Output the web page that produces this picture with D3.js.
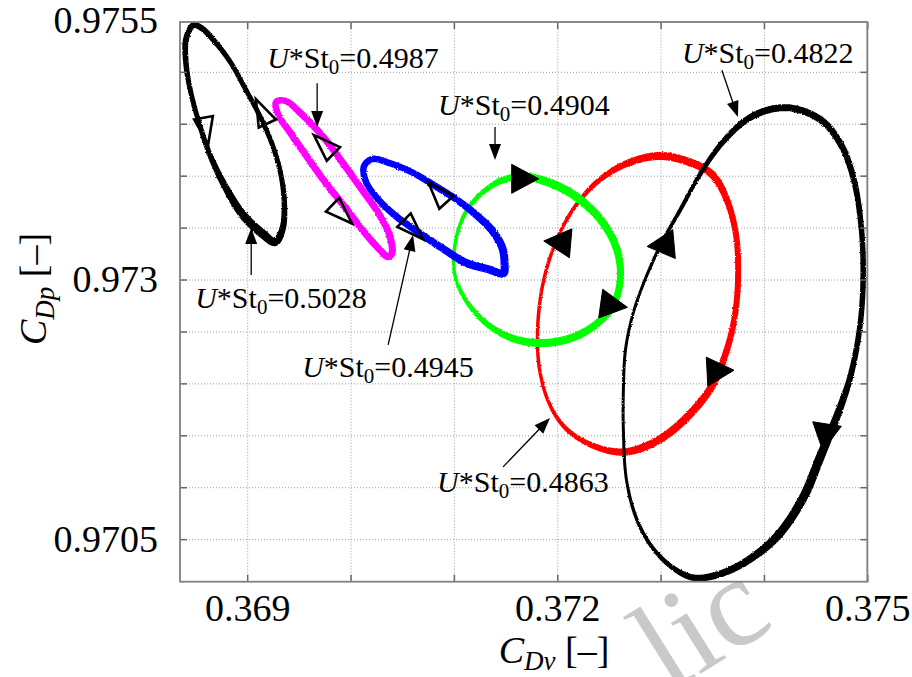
<!DOCTYPE html>
<html>
<head>
<meta charset="utf-8">
<script src="https://cdn.jsdelivr.net/npm/d3@7"></script>
<style>
  html, body { margin: 0; padding: 0; background: #fff; }
  svg { display: block; }
  text { font-family: "Liberation Serif", "Times New Roman", serif; }
</style>
</head>
<body>
<svg id="chart" width="912" height="677"></svg>
<script>
// ---------------------------------------------------------------
// Limit cycles of the viscous (C_Dv) vs. pressure (C_Dp) drag
// coefficients for six values of U*St0. Each cycle is one closed
// orbit, listed in its direction of travel.
// ---------------------------------------------------------------
const cycle4822 = [
  [0.37427,0.97465],[0.37456,0.97453],[0.37475,0.97429],[0.37487,0.97396],[0.37494,0.97352],
  [0.37496,0.97304],[0.37493,0.97256],[0.37484,0.97208],[0.37472,0.97172],[0.37454,0.97128],
  [0.37438,0.97090],[0.37413,0.97053],[0.37382,0.97028],[0.37353,0.97015],[0.37331,0.97013],
  [0.37311,0.97023],[0.37292,0.97042],[0.37277,0.97069],[0.37267,0.97107],[0.37264,0.97155],
  [0.37264,0.97194],[0.37266,0.97232],[0.37273,0.97266],[0.37285,0.97300],[0.37301,0.97335],
  [0.37319,0.97367],[0.37338,0.97401],[0.37359,0.97431],[0.37382,0.97453],[0.37403,0.97463]
];
const cycle4863 = [
  [0.37299,0.97419],[0.37328,0.97413],[0.37350,0.97401],[0.37364,0.97377],[0.37373,0.97343],
  [0.37375,0.97304],[0.37372,0.97266],[0.37364,0.97232],[0.37350,0.97198],[0.37328,0.97170],
  [0.37299,0.97146],[0.37266,0.97134],[0.37237,0.97139],[0.37210,0.97155],[0.37193,0.97179],
  [0.37183,0.97213],[0.37181,0.97251],[0.37185,0.97290],[0.37193,0.97321],[0.37205,0.97350],
  [0.37220,0.97374],[0.37241,0.97396],[0.37268,0.97412]
];
const cycle4904 = [
  [0.37169,0.97399],[0.37198,0.97391],[0.37222,0.97377],[0.37244,0.97355],[0.37258,0.97328],
  [0.37261,0.97300],[0.37254,0.97275],[0.37239,0.97258],[0.37217,0.97245],[0.37190,0.97239],
  [0.37161,0.97242],[0.37135,0.97255],[0.37113,0.97278],[0.37101,0.97304],[0.37101,0.97333],
  [0.37111,0.97364],[0.37128,0.97384],[0.37148,0.97396]
];
const cycle4945 = [
  [0.37149,0.97315],[0.37147,0.97330],[0.37138,0.97346],[0.37123,0.97361],[0.37104,0.97376],
  [0.37082,0.97390],[0.37060,0.97403],[0.37038,0.97412],[0.37021,0.97416],[0.37013,0.97409],
  [0.37015,0.97394],[0.37027,0.97377],[0.37044,0.97361],[0.37065,0.97346],[0.37089,0.97330],
  [0.37112,0.97316],[0.37133,0.97310],[0.37148,0.97306]
];
const cycle4987 = [
  [0.37040,0.97325],[0.37038,0.97342],[0.37027,0.97364],[0.37010,0.97388],[0.36992,0.97413],
  [0.36973,0.97438],[0.36953,0.97459],[0.36937,0.97472],[0.36928,0.97471],[0.36930,0.97459],
  [0.36942,0.97441],[0.36958,0.97418],[0.36976,0.97393],[0.36996,0.97368],[0.37013,0.97346],
  [0.37028,0.97329],[0.37036,0.97322]
];
const cycle5028 = [
  [0.36848,0.97545],[0.36841,0.97532],[0.36841,0.97506],[0.36846,0.97478],[0.36854,0.97449],
  [0.36864,0.97420],[0.36879,0.97389],[0.36896,0.97362],[0.36915,0.97344],[0.36927,0.97336],
  [0.36934,0.97348],[0.36936,0.97372],[0.36933,0.97399],[0.36925,0.97428],[0.36913,0.97456],
  [0.36898,0.97484],[0.36884,0.97509],[0.36868,0.97530],[0.36856,0.97542]
];

// Axis ticks and labels
const gridX  = [0.369, 0.370, 0.371, 0.372, 0.373, 0.374, 0.375];
const labelX = [0.369, 0.372, 0.375];
const gridY  = [0.9705, 0.971, 0.9715, 0.972, 0.9725, 0.973, 0.9735, 0.974, 0.9745, 0.975, 0.9755];
const labelY = [0.9705, 0.973, 0.9755];

// Direction markers on the cycles: position, heading (deg), filled or open
const markerPos = [
  [0.37169,0.97397],[0.37255,0.97275],[0.37200,0.97336],[0.37358,0.97212],[0.37300,0.97333],[0.37459,0.97148],
  [0.36860,0.97443],[0.36914,0.97462],[0.36974,0.97430],[0.36992,0.97363],[0.37084,0.97384],[0.37061,0.97348]
];
const markerHeading = [0, 8, 185, -3, 175, 99, 80, 245, 224, 44, 228, 45];
const markerFilled  = [true, true, true, true, true, true, false, false, false, false, false, false];

// Callouts naming each cycle
const calloutValue = ["0.5028", "0.4987", "0.4904", "0.4822", "0.4945", "0.4863"];
const calloutText  = [[0.368497,0.972726],[0.369193,0.975035],[0.370847,0.974583],
                      [0.373206,0.975083],[0.369532,0.972062],[0.370837,0.970955]];
const calloutFrom  = [[0.369039,0.973043],[0.369677,0.974891],[0.371398,0.974468],
                      [0.373593,0.975016],[0.370364,0.972370],[0.371476,0.971196]];
const calloutTo    = [[0.369039,0.973496],[0.369677,0.974468],[0.371398,0.974150],
                      [0.373748,0.974564],[0.370605,0.973428],[0.371930,0.971667]];

// ---------------------------------------------------------------
// Stroke look (band width in px at each listed vertex)
// ---------------------------------------------------------------
const width4822 = [7,7,6.5,6,5.5,5.5,5.5,6,7.5,9,9,8.5,7.5,7,6.5,5,4,3.5,3,3,3,3,3,3,3.5,4,4.5,5.5,6.5,7];
const width4863 = [8,8,7.5,6.5,6,6,6,6.5,7.5,8,8,7.5,6,4.5,3.5,3.5,3.5,3.5,3.5,3.5,4,5.5,7];
const width4904 = [8,8.5,8.5,8,7.5,7,7,7.5,8,8,7.5,6,4.5,3.5,3.5,4,5,6.5];
const width4945 = [8,8,8,7.5,7,7,6.5,6.5,6.5,6.5,6.5,6.5,7,7,7.5,8,8,8];
const width4987 = [7,7,7,7,7,7,7,6.5,6.5,6.5,7,7,7,7,7,7,7];
const width5028 = [6,6,5.5,5,5,5.5,7,8.5,9,8,6.5,5.5,5,5,5,5,5,5.5,6];

// drawing order: later entries sit on top
const series = [
  { pts: cycle4863, widths: width4863, color: "#ff0000" },
  { pts: cycle4822, widths: width4822, color: "#000000" },
  { pts: cycle4904, widths: width4904, color: "#00ff00" },
  { pts: cycle4945, widths: width4945, color: "#0000ff" },
  { pts: cycle4987, widths: width4987, color: "#ff00ff" },
  { pts: cycle5028, widths: width5028, color: "#000000" }
];

// ---------------------------------------------------------------
const svg = d3.select("#chart");
const xs = d3.scaleLinear().domain([0.36835, 0.375]).range([180, 867.3]);
const ys = d3.scaleLinear().domain([0.97009, 0.97548]).range([581.7, 22]);
const [plotLeft, plotRight] = xs.range();
const [plotBottom, plotTop] = ys.range();
const plotW = plotRight - plotLeft, plotH = plotBottom - plotTop;
const yMax = ys.domain()[1];

const defs = svg.append("defs");
defs.append("clipPath").attr("id", "plotClip")
  .append("rect").attr("x", plotLeft).attr("y", plotTop).attr("width", plotW).attr("height", plotH);
const rough = defs.append("filter").attr("id", "rough")
  .attr("x", "-10%").attr("y", "-10%").attr("width", "120%").attr("height", "120%");
rough.append("feTurbulence").attr("type", "fractalNoise").attr("baseFrequency", 0.8)
  .attr("numOctaves", 2).attr("seed", 7).attr("result", "noise");
rough.append("feDisplacementMap").attr("in", "SourceGraphic").attr("in2", "noise")
  .attr("scale", 2.4).attr("xChannelSelector", "R").attr("yChannelSelector", "G");

// faint watermark behind the page, hidden by the plot panel
svg.append("text")
  .attr("transform", "translate(668,694) rotate(-32)")
  .attr("font-size", 128).attr("fill", "#c9c9c9")
  .text("lic");

// opaque plot panel
svg.append("rect")
  .attr("x", plotLeft).attr("y", plotTop).attr("width", plotW).attr("height", plotH)
  .attr("fill", "#fff");

// dotted grid
const grid = svg.append("g").attr("class", "grid");
grid.append("g").attr("transform", `translate(0,${plotBottom})`)
  .call(d3.axisBottom(xs).tickValues(gridX).tickSize(-plotH).tickFormat(""))
  .call(g => g.select(".domain").remove());
grid.append("g").attr("transform", `translate(${plotLeft},0)`)
  .call(d3.axisLeft(ys).tickValues(gridY.filter(v => v < yMax)).tickSize(-plotW).tickFormat(""))
  .call(g => g.select(".domain").remove());
grid.selectAll("line").attr("stroke", "#9c9c9c").attr("stroke-width", 1).attr("stroke-dasharray", "1,2");

// variable-width band following a closed Catmull-Rom curve
const probe = svg.append("path").attr("fill", "none").attr("stroke", "none");
function bandPath(px, widths) {
  const d = d3.line().curve(d3.curveCatmullRomClosed.alpha(0.5))(px);
  probe.attr("d", d);
  const node = probe.node();
  const len = node.getTotalLength();
  const M = 900;
  const S = d3.range(M).map(k => { const p = node.getPointAtLength(len * k / M); return [p.x, p.y]; });
  const n = px.length;
  const at = px.map(p => d3.minIndex(S, s => (s[0] - p[0]) ** 2 + (s[1] - p[1]) ** 2));
  const Wd = new Array(M).fill(widths[0]);
  for (let i = 0; i < n; i++) {
    const a = at[i], b = at[(i + 1) % n];
    const span = ((b - a + M) % M) || M;
    const w0 = widths[i], w1 = widths[(i + 1) % n];
    for (let k = 0; k < span; k++) Wd[(a + k) % M] = w0 + (w1 - w0) * k / span;
  }
  const outer = [], inner = [];
  for (let j = 0; j < M; j++) {
    const p = S[(j + 2) % M], q = S[(j - 2 + M) % M];
    let tx = p[0] - q[0], ty = p[1] - q[1];
    const tl = Math.hypot(tx, ty) || 1; tx /= tl; ty /= tl;
    const nx = -ty, ny = tx, h = Wd[j] / 2;
    outer.push([S[j][0] + nx * h, S[j][1] + ny * h]);
    inner.push([S[j][0] - nx * h, S[j][1] - ny * h]);
  }
  inner.reverse();
  const ring = r => "M" + r.map(p => p[0].toFixed(2) + "," + p[1].toFixed(2)).join("L") + "Z";
  return ring(outer) + ring(inner);
}

const loops = svg.append("g").attr("clip-path", "url(#plotClip)")
  .append("g").attr("filter", "url(#rough)");
series.forEach(s => {
  const px = s.pts.map(([x, y]) => [xs(x), ys(y)]);
  loops.append("path")
    .attr("d", bandPath(px, s.widths))
    .attr("fill", s.color)
    .attr("fill-rule", "nonzero");
});
probe.remove();

// direction markers
function triangle(cx, cy, deg, L, Wb) {
  const a = deg * Math.PI / 180, ux = Math.cos(a), uy = Math.sin(a), nx = -uy, ny = ux;
  const tip = [cx + ux * L / 2, cy + uy * L / 2];
  const b1 = [cx - ux * L / 2 + nx * Wb / 2, cy - uy * L / 2 + ny * Wb / 2];
  const b2 = [cx - ux * L / 2 - nx * Wb / 2, cy - uy * L / 2 - ny * Wb / 2];
  return `M${tip}L${b1}L${b2}Z`;
}
const markers = svg.append("g");
markerPos.forEach(([x, y], i) => {
  const filled = markerFilled[i];
  markers.append("path")
    .attr("d", filled ? triangle(xs(x), ys(y), markerHeading[i], 27, 29)
                      : triangle(xs(x), ys(y), markerHeading[i], 27, 19))
    .attr("fill", filled ? "#000" : "none")
    .attr("stroke", "#000")
    .attr("stroke-width", filled ? 1 : 2.6)
    .attr("stroke-linejoin", "miter");
});

// callouts
const callouts = svg.append("g");
calloutValue.forEach((v, i) => {
  const [fx, fy] = calloutFrom[i], [tx, ty] = calloutTo[i];
  const x1 = xs(fx), y1 = ys(fy), x2 = xs(tx), y2 = ys(ty);
  const ang = Math.atan2(y2 - y1, x2 - x1) * 180 / Math.PI;
  const hl = 16, ux = Math.cos(ang * Math.PI / 180), uy = Math.sin(ang * Math.PI / 180);
  callouts.append("line")
    .attr("x1", x1).attr("y1", y1).attr("x2", x2 - ux * hl * 0.8).attr("y2", y2 - uy * hl * 0.8)
    .attr("stroke", "#000").attr("stroke-width", 1.3);
  callouts.append("path")
    .attr("d", triangle(x2 - ux * hl / 2, y2 - uy * hl / 2, ang, hl, 12))
    .attr("fill", "#000");
  const t = callouts.append("text")
    .attr("x", xs(calloutText[i][0])).attr("y", ys(calloutText[i][1]))
    .attr("font-size", 30).attr("fill", "#000");
  t.append("tspan").attr("font-style", "italic").text("U");
  t.append("tspan").text("*St");
  t.append("tspan").attr("font-size", "0.7em").attr("dy", 6).text("0");
  t.append("tspan").attr("dy", -6).text("=" + v);
});

// frame with inward ticks on all four sides
const axes = svg.append("g");
const tickColor = "#666";
const axB = axes.append("g").attr("transform", `translate(0,${plotBottom})`)
  .call(d3.axisBottom(xs).tickValues(gridX).tickSizeInner(-7).tickSizeOuter(0).tickPadding(12)
    .tickFormat(d => labelX.includes(d) ? String(d) : ""));
const axT = axes.append("g").attr("transform", `translate(0,${plotTop})`)
  .call(d3.axisTop(xs).tickValues(gridX).tickSizeInner(-7).tickSizeOuter(0).tickFormat(""));
const axL = axes.append("g").attr("transform", `translate(${plotLeft},0)`)
  .call(d3.axisLeft(ys).tickValues(gridY).tickSizeInner(-7).tickSizeOuter(0).tickPadding(22)
    .tickFormat(d => labelY.includes(d) ? String(d) : ""));
const axR = axes.append("g").attr("transform", `translate(${plotRight},0)`)
  .call(d3.axisRight(ys).tickValues(gridY).tickSizeInner(-7).tickSizeOuter(0).tickFormat(""));
[axL, axR].forEach(g => {
  g.selectAll(".tick").filter(d => d > yMax).select("line").remove();
});
[axB, axT, axL, axR].forEach(g => {
  g.select(".domain").remove();
  g.selectAll(".tick line").attr("stroke", tickColor).attr("stroke-width", 1.5);
  g.attr("font-family", null).attr("font-size", 38);
  g.selectAll("text").attr("fill", "#000");
});
axes.append("rect")
  .attr("x", plotLeft).attr("y", plotTop).attr("width", plotW).attr("height", plotH)
  .attr("fill", "none").attr("stroke", "#808080").attr("stroke-width", 1.8);

// axis titles
const xt = svg.append("text").attr("x", 554).attr("y", 663).attr("text-anchor", "middle").attr("font-size", 38);
xt.append("tspan").attr("font-style", "italic").text("C");
xt.append("tspan").attr("font-style", "italic").attr("font-size", 27).attr("dy", 7).text("Dv");
xt.append("tspan").attr("dy", -7).text(" [\u2013]");

const yt = svg.append("text").attr("transform", "translate(46,289) rotate(-90)")
  .attr("text-anchor", "middle").attr("font-size", 38);
yt.append("tspan").attr("font-style", "italic").text("C");
yt.append("tspan").attr("font-style", "italic").attr("font-size", 27).attr("dy", 8).text("Dp");
yt.append("tspan").attr("dy", -8).text(" [\u2013]");
</script>
</body>
</html>
